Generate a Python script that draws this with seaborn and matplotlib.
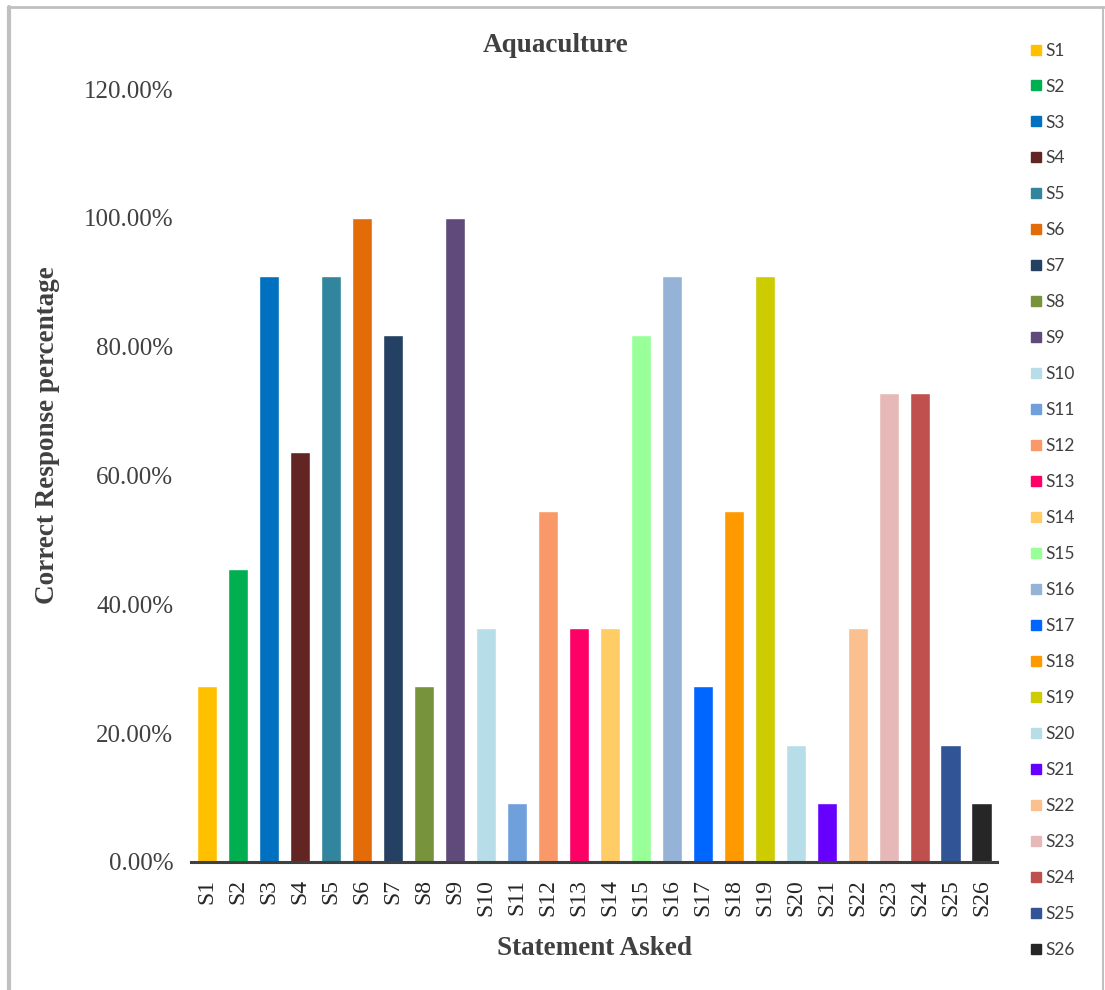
import matplotlib
matplotlib.use("Agg")
import matplotlib.pyplot as plt
import matplotlib.lines as mlines
from matplotlib.ticker import FuncFormatter
import seaborn as sns
import pandas as pd

# Statements and share of correct responses (fraction of respondents)
statements = [f"S{i}" for i in range(1, 27)]
correct_pct = [0.2727, 0.4545, 0.9091, 0.6364, 0.9091, 1.0000, 0.8182, 0.2727,
               1.0000, 0.3636, 0.0909, 0.5455, 0.3636, 0.3636, 0.8182, 0.9091,
               0.2727, 0.5455, 0.9091, 0.1818, 0.0909, 0.3636, 0.7273, 0.7273,
               0.1818, 0.0909]
bar_colors = ["#FFC000", "#00B050", "#0070C0", "#632523", "#31859C", "#E36C09",
              "#244062", "#77933C", "#604A7B", "#B7DEE8", "#6FA0DC", "#F9996A",
              "#FF0066", "#FFCC66", "#99FF99", "#95B3D7", "#0066FF", "#FF9900",
              "#CCCC00", "#B7DEE8", "#6600FF", "#FAC090", "#E6B9B8", "#C0504D",
              "#305496", "#262626"]
y_ticks = [0.0, 0.2, 0.4, 0.6, 0.8, 1.0, 1.2]

df = pd.DataFrame({"Statement": statements, "Correct": correct_pct})

sns.set_theme(style="white")
plt.rcParams["font.family"] = ["Liberation Serif", "DejaVu Serif"]

fig = plt.figure(figsize=(11.05, 9.9), dpi=100)
ax = fig.add_axes([0.1733, 0.1293, 0.7290, 0.7808])

sns.barplot(data=df, x="Statement", y="Correct", hue="Statement",
            palette=bar_colors, order=statements, hue_order=statements,
            dodge=False, width=0.65, saturation=1.0, legend=False, ax=ax)

ax.set_xlim(-0.5, len(statements) - 0.5)
ax.set_ylim(0, 1.2)
ax.set_yticks(y_ticks)
ax.yaxis.set_major_formatter(FuncFormatter(lambda v, _: f"{v * 100:.2f}%"))
ax.tick_params(axis="y", labelsize=18, colors="#404040", length=0, pad=13)
ax.tick_params(axis="x", labelsize=17, labelcolor="#262626", length=0,
               rotation=90, pad=12.5)

for side in ["left", "right", "top"]:
    ax.spines[side].set_visible(False)
ax.spines["bottom"].set_color("#404040")
ax.spines["bottom"].set_linewidth(2.2)

fig.text(0.503, 0.9536, "Aquaculture", fontsize=19.5, fontweight="bold",
         color="#404040", ha="center", va="center")
ax.set_xlabel("Statement Asked", fontsize=19.5, fontweight="bold",
              color="#404040", labelpad=14)
ax.set_ylabel("Correct Response percentage", fontsize=19.5, fontweight="bold",
              color="#404040")
ax.yaxis.set_label_coords(-0.163, 0.552)

# Legend on the right: one square marker per statement
handles = [mlines.Line2D([], [], linestyle="none", marker="s", markersize=7,
                         markerfacecolor=c, markeredgecolor=c)
           for c in bar_colors]
leg = fig.legend(handles, statements, loc="upper left",
                 bbox_to_anchor=(0.927, 0.964), frameon=False,
                 labelspacing=1.15, handlelength=0.55, handletextpad=0.25,
                 borderaxespad=0,
                 prop={"family": ["Lato", "DejaVu Sans"], "size": 12.5})
for t in leg.get_texts():
    t.set_color("#404040")

# Light gray frame around the chart area
frame = dict(color="#C0C0C0", transform=fig.transFigure, clip_on=False)
fig.add_artist(mlines.Line2D([0.0085, 0.0085], [0.0, 0.993], lw=3, **frame))
fig.add_artist(mlines.Line2D([0.0085, 0.999], [0.993, 0.993], lw=2, **frame))
fig.add_artist(mlines.Line2D([0.9985, 0.9985], [0.0, 0.993], lw=1.5, **frame))

fig.savefig("out.png", dpi=100, facecolor="white")
